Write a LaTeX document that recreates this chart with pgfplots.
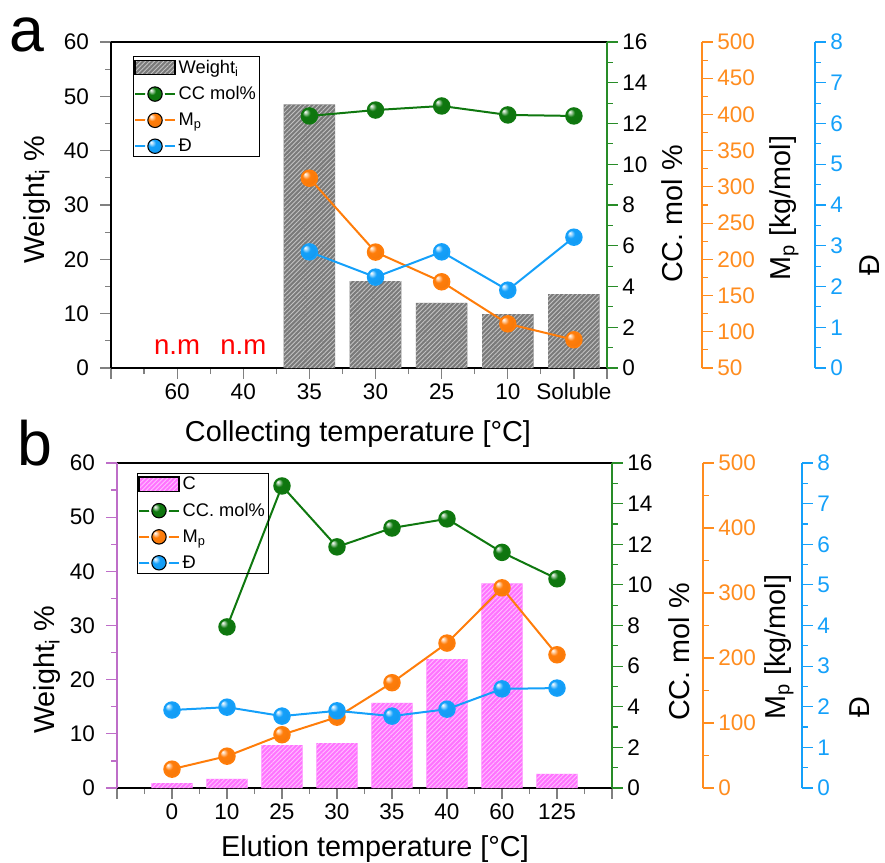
\documentclass[border=0pt]{standalone}
\usepackage{pgfplots}
\pgfplotsset{compat=1.18}
\usepackage{fontspec}
\setmainfont{Liberation Sans}
\usetikzlibrary{patterns.meta}

\makeatletter
\pgfdeclareradialshading[tikz@ball]{ball}{\pgfqpoint{-14bp}{14bp}}{%
  color(0bp)=(tikz@ball!0!white);
  color(5bp)=(tikz@ball!35!white);
  color(13bp)=(tikz@ball);
  color(36bp)=(tikz@ball!95!black);
  color(50bp)=(tikz@ball!82!black)}
\makeatother

\definecolor{cgreen}{RGB}{15,120,15}
\definecolor{cgreenax}{RGB}{40,140,40}
\definecolor{corange}{RGB}{255,125,10}
\definecolor{coraxis}{RGB}{255,140,30}
\definecolor{cblue}{RGB}{20,160,250}
\definecolor{cviolet}{RGB}{190,110,200}
\definecolor{cgray}{RGB}{122,122,122}
\definecolor{cpink}{RGB}{255,115,255}

\newcommand\ticksz{\fontsize{16.9}{18}\selectfont}
\newcommand\labsz{\fontsize{21.6}{24}\selectfont}
\newcommand\legsz{\fontsize{13.7}{15}\selectfont}
\newcommand\nmsz{\fontsize{20.7}{22}\selectfont}

\tikzset{hatch/.style={fill=#1, draw=none, postaction={pattern={Lines[angle=45,distance=2.4pt,line width=0.65pt]}, pattern color=white!55!#1}}}

\pgfplotsset{
  common/.style={
    scale only axis, clip=false,
    tick align=outside,
    major tick length=8pt, minor tick length=4.5pt,
    every tick/.append style={line width=0.9pt},
    axis line style={line width=0.9pt},
    tick label style={font=\ticksz},
    /pgf/number format/assume math mode=true,
  },
  leftax/.style={yticklabel style={xshift=-5pt}},
  pa/.style={at={(83.25pt,-276pt)}, anchor=south west, width=372pt, height=244.5pt, xmin=0, xmax=7.5},
  pb/.style={at={(87.75pt,-591pt)}, anchor=south west, width=371.25pt, height=243.75pt, xmin=0, xmax=9},
  greenax/.style={axis x line=none, axis y line*=right, ymin=0, ymax=16,
    y axis line style={cgreenax}, every tick/.append style={cgreenax},
    ytick={0,2,...,16}, minor ytick={1,3,...,15}},
  orangeax/.style={axis x line=none, axis y line*=right,
    y axis line style={coraxis}, every tick/.append style={coraxis},
    yticklabel style={text=coraxis}},
  blueax/.style={axis x line=none, axis y line*=right, ymin=0, ymax=8,
    y axis line style={cblue}, every tick/.append style={cblue},
    yticklabel style={text=cblue}, ytick={0,1,...,8}, minor ytick={0.5,1.5,...,7.5}},
  ser/.style={#1, line width=1.5pt, mark=ball, mark size=5.8pt, mark options={ball color=#1}},
  legst/.style={legend style={at={#1}, anchor=north west, draw=black, line width=0.8pt, fill=none, font=\legsz, inner xsep=0.5pt, inner ysep=0.5pt, row sep=4.5pt},
    legend cell align=left},
}
\newcommand\legball[1]{\addlegendimage{legend image code/.code={\draw[#1, line width=1.5pt] (0pt,0pt) -- (30pt,0pt); \fill[white] (15pt,0pt) circle (7pt); \shade[ball color=#1] (15pt,0pt) circle (5.4pt);}}}
\newcommand\legbar[1]{\addlegendimage{legend image code/.code={\fill[hatch=#1] (0pt,-5.5pt) rectangle (30pt,5.5pt);}}}

\begin{document}
\begin{tikzpicture}
\useasboundingbox (0,0) rectangle (663.75pt,-647.25pt);

% ---------------- Panel a ----------------
\begin{axis}[common, pa, leftax, ymin=0, ymax=60, separate axis lines,
  xtick={0,1,2,3,4,5,6,7,7.5}, xticklabels={,60,40,35,30,25,10,Soluble,},
  minor xtick={0.5,1.5,2.5,3.5,4.5,5.5,6.5},
  ytick={0,10,...,60}, minor ytick={5,15,...,55},
  xtick pos=left, ytick pos=left]
\addplot[ybar, bar width=0.78, bar shift=0pt, hatch=cgray] coordinates {(3,48.5) (4,16) (5,12) (6,9.9) (7,13.6)};
\node[text=red, font=\nmsz] at (axis cs:1,3.9) {n.m};
\node[text=red, font=\nmsz] at (axis cs:2,3.9) {n.m};
\end{axis}

\begin{axis}[common, pa, greenax]
\addplot[ser=cgreen] coordinates {(3,12.37) (4,12.66) (5,12.86) (6,12.42) (7,12.37)};
\end{axis}

\begin{axis}[common, pa, orangeax, axis y line shift=71.25pt, ymin=50, ymax=500,
  ytick={50,100,...,500}, minor ytick={75,125,...,475}]
\addplot[ser=corange] coordinates {(3,312) (4,210) (5,169) (6,111) (7,89)};
\end{axis}

\begin{axis}[common, pa, blueax, axis y line shift=156pt, legst={(rel axis cs:0.044,0.957)}]
\legbar{cgray}
\legball{cgreen}
\legball{corange}
\legball{cblue}
\addplot[ser=cblue, forget plot] coordinates {(3,2.85) (4,2.23) (5,2.85) (6,1.91) (7,3.21)};
\legend{Weight\textsubscript{i}, CC mol\%, M\textsubscript{p}, Đ}
\end{axis}

% ---------------- Panel b ----------------
\begin{axis}[common, pb, leftax, ymin=0, ymax=60, separate axis lines,
  y axis line style={cviolet}, every y tick/.append style={cviolet},
  xtick={0,...,9}, xticklabels={,0,10,25,30,35,40,60,125,},
  minor xtick={0.5,1.5,...,8.5},
  ytick={0,10,...,60}, minor ytick={5,15,...,55},
  xtick pos=left, ytick pos=left]
\addplot[ybar, bar width=0.75, bar shift=0pt, hatch=cpink] coordinates {(1,0.9) (2,1.7) (3,7.9) (4,8.3) (5,15.7) (6,23.8) (7,37.8) (8,2.6)};
\end{axis}

\begin{axis}[common, pb, greenax]
\addplot[ser=cgreen] coordinates {(2,7.93) (3,14.87) (4,11.87) (5,12.8) (6,13.25) (7,11.6) (8,10.3)};
\end{axis}

\begin{axis}[common, pb, orangeax, axis y line shift=68.25pt, ymin=0, ymax=500,
  ytick={0,100,...,500}, minor ytick={50,150,...,450}]
\addplot[ser=corange] coordinates {(1,29) (2,49) (3,82) (4,109) (5,162) (6,223) (7,308) (8,205)};
\end{axis}

\begin{axis}[common, pb, blueax, axis y line shift=142.5pt, legst={(rel axis cs:0.040,0.969)}]
\legbar{cpink}
\legball{cgreen}
\legball{corange}
\legball{cblue}
\addplot[ser=cblue, forget plot] coordinates {(1,1.92) (2,1.99) (3,1.77) (4,1.90) (5,1.77) (6,1.94) (7,2.44) (8,2.46)};
\legend{C, CC. mol\%, M\textsubscript{p}, Đ}
\end{axis}

% ---------------- labels ----------------
\node[font=\fontsize{47}{50}\selectfont, anchor=base] at (20.25pt,-39pt) {a};
\node[font=\fontsize{47}{50}\selectfont, anchor=base] at (26.25pt,-348.75pt) {b};

\node[font=\labsz, rotate=90] at (27.75pt,-150pt) {Weight\textsubscript{i} \%};
\node[font=\labsz, rotate=90] at (504pt,-160.5pt) {CC. mol \%};
\node[font=\labsz, rotate=90] at (588pt,-156pt) {M\textsubscript{p} [kg/mol]};
\node[font=\labsz, rotate=90, inner sep=0pt] at (652pt,-198.75pt) {Đ};
\node[font=\labsz, anchor=base] at (268.5pt,-330.75pt) {Collecting temperature [°C]};

\node[font=\labsz, rotate=90] at (35.25pt,-502.5pt) {Weight\textsubscript{i} \%};
\node[font=\labsz, rotate=90] at (509.25pt,-489pt) {CC. mol \%};
\node[font=\labsz, rotate=90] at (584.25pt,-485.25pt) {M\textsubscript{p} [kg/mol]};
\node[font=\labsz, rotate=90, inner sep=0pt] at (645pt,-530.25pt) {Đ};
\node[font=\labsz, anchor=base] at (281.25pt,-642pt) {Elution temperature [°C]};
\end{tikzpicture}
\end{document}
